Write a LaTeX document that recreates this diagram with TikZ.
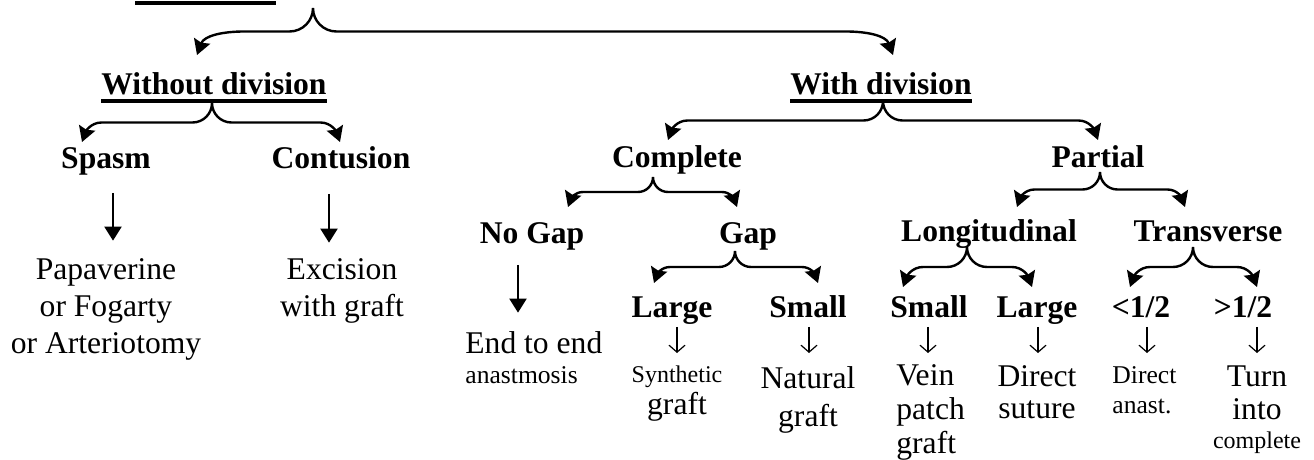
\documentclass[tikz,border=0pt]{standalone}
\usepackage{fontspec}
\setmainfont{Liberation Serif}
\usepackage{tikz}
\usetikzlibrary{arrows.meta,calc}

\newcommand{\sma}{\fontsize{12}{15}\selectfont}
\newcommand{\smb}{\fontsize{12.8}{15}\selectfont}

\tikzset{
  head/.style={font=\fontsize{15.8}{17}\selectfont\bfseries, inner sep=0pt, anchor=base},
  leaf/.style={font=\fontsize{15.8}{17}\selectfont, inner sep=0pt, anchor=base, align=center},
  bracearrow/.style={line width=1.2pt, {Stealth[length=7.5pt,width=8.5pt,inset=1pt]}-{Stealth[length=7.5pt,width=8.5pt,inset=1pt]}},
  dnthick/.style={line width=1pt, -{Triangle[length=7pt,width=8.5pt]}},
  dnthin/.style={line width=0.6pt, -{Straight Barb[length=3.5pt,width=8pt]}},
  uline/.style={line width=2pt}
}

% brace from a point (#2) down to two tips (#3, #4); #1 widens the end curves
\newcommand{\branch}[4][1]{%
  \draw[bracearrow] let \p0=#2, \p1=#3, \p2=#4,
      \n1={0.5*(\y0+\y1)}, \n2={0.5*(\y0-\y1)}, \n3={#1*\n2} in
    (\p1) to[out=70,in=180] (\x1+\n3,\n1) -- (\x0-\n2,\n1)
    to[out=0,in=-90] (\p0) to[out=-90,in=180] (\x0+\n2,\n1)
    -- (\x2-\n3,\n1) to[out=0,in=110] (\p2);
}

\begin{document}
\begin{tikzpicture}[x=0.5pt,y=-0.5pt]
\useasboundingbox (0,0) rectangle (1314,460);

% Title underline (text above the frame)
\draw[uline] (135,3.5) -- (276,3.5);
\coordinate (root) at (313,8);

% Level 1
\node[head] (wod) at (214,95) {Without division};
\node[head] (wd) at (881,95) {With division};
\draw[uline] ([yshift=-3pt]wod.base west) -- ([yshift=-3pt]wod.base east);
\draw[uline] ([yshift=-3pt]wd.base west) -- ([yshift=-3pt]wd.base east);

% Level 2
\node[head] (sp) at (106,169) {Spasm};
\node[head] (ct) at (341,169) {Contusion};
\node[head] (cp) at (677,168) {Complete};
\node[head] (pa) at (1098,168) {Partial};

% Level 3
\node[head] (ng) at (532,243) {No Gap};
\node[head] (gp) at (748,243) {Gap};
\node[head] (lo) at (989,242) {Longitudinal};
\node[head] (tr) at (1208,242) {Transverse};

% Level 4
\node[head] (lg1) at (672,317) {Large};
\node[head] (sm1) at (808,317) {Small};
\node[head] (sm2) at (929,317) {Small};
\node[head] (lg2) at (1037,317) {Large};
\node[head] (lt) at (1141,317) {<1/2};
\node[head] (gt) at (1243,317) {>1/2};

% Treatments (placed at the baseline of the last line)
\node[leaf] (r1) at (106,353) {Papaverine\\[1.5pt]or Fogarty\\[1.5pt]or Arteriotomy};
\node[leaf] (r2) at (342,316) {Excision\\[1.5pt]with graft};
\node[leaf,anchor=base west,align=left] (r3) at (465,383) {End to end\\[-2pt]{\smb anastmosis}};
\node[leaf] (r4) at (677,415) {{\sma Synthetic}\\[-0.5pt]graft};
\node[leaf] (r5) at (808,426) {Natural\\[2pt]graft};
\node[leaf,anchor=base west,align=left] (r6) at (896,453) {Vein\\patch\\graft};
\node[leaf] (r7) at (1037,418) {Direct\\[-1pt]suture};
\node[leaf,anchor=base west,align=left,font=\smb] (r8) at (1112,413) {Direct\\anast.};
\node[leaf] (r9) at (1257,448) {Turn\\[-0.5pt]into\\[-2.5pt]{\sma complete}};

% Braces
\branch[2]{(root)}{([xshift=-8.5pt,yshift=20pt]wod.base)}{([xshift=6pt,yshift=20pt]wd.base)}
\branch{([xshift=-1pt,yshift=-4pt]wod.base)}{([xshift=-12pt,yshift=13.5pt]sp.base)}{([xshift=-0.5pt,yshift=13.5pt]ct.base)}
\branch{([xshift=1pt,yshift=-3pt]wd.base)}{([xshift=-4.5pt,yshift=14pt]cp.base)}{([yshift=14pt]pa.base)}
\branch{([xshift=-12pt,yshift=-4.5pt]cp.base)}{([xshift=18pt,yshift=18pt]ng.base)}{([xshift=-5.5pt,yshift=18pt]gp.base)}
\branch{([xshift=-6.5pt,yshift=-4pt]gp.base)}{([xshift=-9pt,yshift=17pt]lg1.base)}{([xshift=5pt,yshift=17pt]sm1.base)}
\branch{([xshift=1pt,yshift=-2pt]pa.base)}{([xshift=14pt,yshift=17.5pt]lo.base)}{([xshift=-11.5pt,yshift=17.5pt]tr.base)}
\branch{([xshift=-11pt,yshift=-2.5pt]lo.base)}{([xshift=-13pt,yshift=15pt]sm2.base)}{([xshift=-2.5pt,yshift=15pt]lg2.base)}
\branch{([xshift=-7.5pt,yshift=-2.5pt]tr.base)}{([xshift=-5.5pt,yshift=15pt]lt.base)}{([xshift=7pt,yshift=15pt]gt.base)}

% Down arrows
\draw[dnthick] ([xshift=3.5pt,yshift=-12pt]sp.base) -- ([xshift=3.5pt,yshift=8.5pt]r1.north);
\draw[dnthick] ([xshift=-6pt,yshift=-12.5pt]ct.base) -- ([xshift=-6.5pt,yshift=7.5pt]r2.north);
\draw[dnthick] ([xshift=-7pt,yshift=-11pt]ng.base) -- ([xshift=26.5pt,yshift=9pt]r3.north west);
\draw[dnthin] ([xshift=2.5pt,yshift=-5pt]lg1.base) -- ++(0,-13pt);
\draw[dnthin] ([xshift=0.5pt,yshift=-5pt]sm1.base) -- ++(0,-13pt);
\draw[dnthin] ([xshift=-0.5pt,yshift=-5pt]sm2.base) -- ++(0,-13pt);
\draw[dnthin] ([xshift=0.5pt,yshift=-5pt]lg2.base) -- ++(0,-13pt);
\draw[dnthin] ([xshift=3pt,yshift=-5pt]lt.base) -- ++(0,-13pt);
\draw[dnthin] ([xshift=7pt,yshift=-5pt]gt.base) -- ++(0,-13pt);
\end{tikzpicture}
\end{document}
